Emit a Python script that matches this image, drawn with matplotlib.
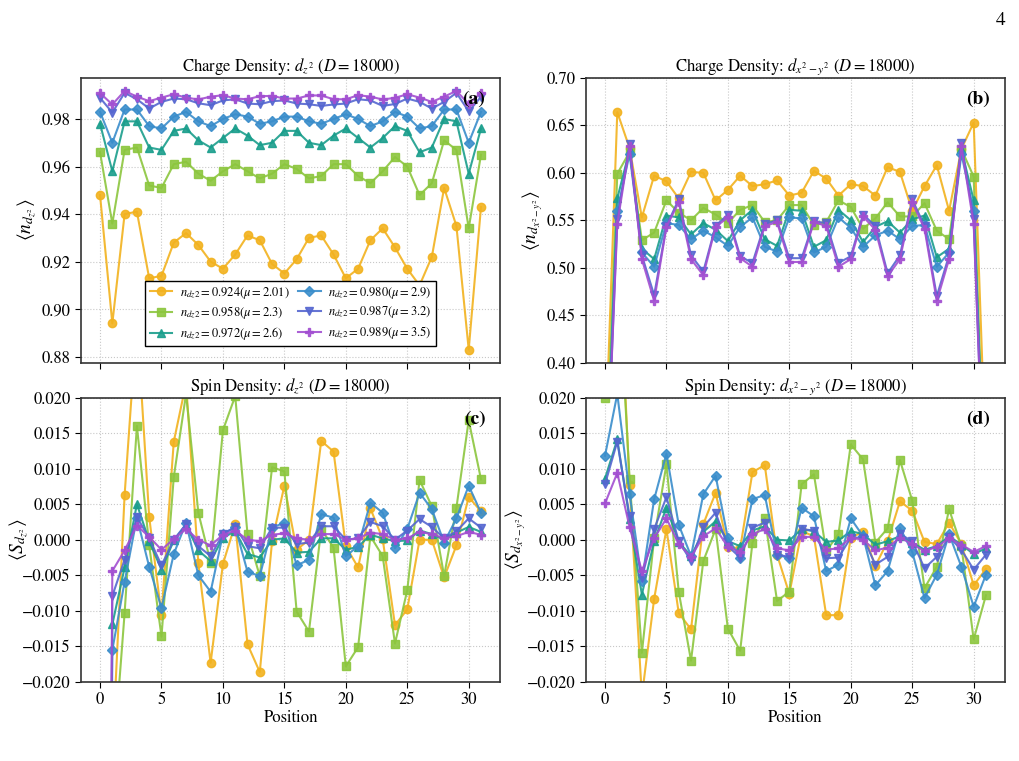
import numpy as np
import matplotlib
matplotlib.use("Agg")
import matplotlib.pyplot as plt

plt.rcParams['font.family'] = ['STIXGeneral', 'Liberation Serif', 'DejaVu Serif']
plt.rcParams['mathtext.fontset'] = 'stix'
plt.rcParams['axes.unicode_minus'] = True

positions = np.arange(32)

labels = [r'$n_{dz2}=0.924(\mu=2.01)$', r'$n_{dz2}=0.958(\mu=2.3)$',
          r'$n_{dz2}=0.972(\mu=2.6)$', r'$n_{dz2}=0.980(\mu=2.9)$',
          r'$n_{dz2}=0.987(\mu=3.2)$', r'$n_{dz2}=0.989(\mu=3.5)$']
colors = ['#F2B21E', '#8CC63E', '#1A9E8C', '#3A8DCB', '#5566D0', '#A24FD1']
markers = ['o', 's', '^', 'D', 'v', 'P']

# charge density dz2
a_0924 = [0.948, 0.894, 0.940, 0.941, 0.913, 0.914, 0.928, 0.932, 0.927, 0.920, 0.917, 0.923, 0.931, 0.929, 0.919, 0.915,
          0.921, 0.930, 0.931, 0.923, 0.913, 0.917, 0.929, 0.934, 0.926, 0.917, 0.910, 0.922, 0.951, 0.935, 0.883, 0.943]
a_0958 = [0.966, 0.936, 0.967, 0.968, 0.952, 0.951, 0.961, 0.962, 0.957, 0.954, 0.958, 0.961, 0.958, 0.955, 0.957, 0.961,
          0.959, 0.955, 0.956, 0.961, 0.961, 0.956, 0.953, 0.958, 0.964, 0.960, 0.948, 0.953, 0.971, 0.967, 0.934, 0.965]
a_0972 = [0.978, 0.958, 0.979, 0.979, 0.968, 0.967, 0.975, 0.976, 0.971, 0.968, 0.972, 0.976, 0.973, 0.969, 0.970, 0.975,
          0.975, 0.970, 0.969, 0.973, 0.976, 0.972, 0.968, 0.972, 0.977, 0.975, 0.966, 0.968, 0.980, 0.979, 0.957, 0.976]
a_0980 = [0.983, 0.970, 0.984, 0.984, 0.977, 0.976, 0.981, 0.983, 0.979, 0.977, 0.980, 0.982, 0.981, 0.978, 0.979, 0.981,
          0.981, 0.979, 0.978, 0.980, 0.982, 0.980, 0.977, 0.979, 0.983, 0.981, 0.976, 0.977, 0.984, 0.984, 0.970, 0.983]
a_0987 = [0.9889, 0.9827, 0.9910, 0.9883, 0.9844, 0.9872, 0.9886, 0.9883, 0.9866, 0.9858, 0.9878, 0.9883, 0.9865, 0.9862,
          0.9875, 0.9878, 0.9865, 0.9862, 0.9855, 0.9861, 0.9865, 0.9883, 0.9878, 0.9855, 0.9863, 0.9886, 0.9872, 0.9844,
          0.9872, 0.9910, 0.9832, 0.9893]
a_0989 = [0.9909, 0.9861, 0.9918, 0.9894, 0.9875, 0.9890, 0.9904, 0.9890, 0.9882, 0.9894, 0.9900, 0.9886, 0.9883, 0.9896,
          0.9897, 0.9886, 0.9886, 0.9899, 0.9899, 0.9883, 0.9883, 0.9900, 0.9894, 0.9882, 0.9889, 0.9904, 0.9890, 0.9872,
          0.9894, 0.9918, 0.9863, 0.9910]

# charge density dx2-y2
b_0924 = [0.30, 0.664, 0.626, 0.553, 0.597, 0.591, 0.573, 0.601, 0.600, 0.571, 0.582, 0.597, 0.586, 0.588, 0.592, 0.576,
          0.579, 0.602, 0.594, 0.576, 0.588, 0.586, 0.576, 0.606, 0.601, 0.560, 0.586, 0.608, 0.560, 0.625, 0.653, 0.29]
b_0958 = [0.26, 0.599, 0.622, 0.529, 0.537, 0.571, 0.558, 0.550, 0.563, 0.556, 0.547, 0.561, 0.566, 0.548, 0.550, 0.566,
          0.566, 0.545, 0.548, 0.571, 0.564, 0.541, 0.552, 0.569, 0.554, 0.554, 0.568, 0.539, 0.530, 0.625, 0.596, 0.22]
b_0972 = [0.24, 0.573, 0.624, 0.520, 0.509, 0.555, 0.553, 0.535, 0.547, 0.540, 0.528, 0.550, 0.561, 0.530, 0.523, 0.561,
          0.560, 0.522, 0.529, 0.561, 0.550, 0.527, 0.543, 0.549, 0.537, 0.551, 0.555, 0.511, 0.520, 0.625, 0.571, 0.22]
b_0980 = [0.24, 0.560, 0.620, 0.516, 0.501, 0.547, 0.545, 0.530, 0.539, 0.532, 0.523, 0.543, 0.553, 0.522, 0.517, 0.553,
          0.552, 0.516, 0.522, 0.553, 0.542, 0.522, 0.534, 0.539, 0.530, 0.544, 0.545, 0.501, 0.516, 0.620, 0.560, 0.22]
b_0987 = [0.23, 0.551, 0.630, 0.513, 0.471, 0.544, 0.572, 0.513, 0.496, 0.544, 0.556, 0.512, 0.505, 0.546, 0.550, 0.510,
          0.510, 0.549, 0.547, 0.505, 0.512, 0.556, 0.544, 0.494, 0.513, 0.572, 0.544, 0.470, 0.513, 0.631, 0.551, 0.21]
b_0989 = [0.23, 0.546, 0.628, 0.509, 0.465, 0.543, 0.569, 0.509, 0.492, 0.543, 0.553, 0.510, 0.501, 0.544, 0.548, 0.506,
          0.506, 0.548, 0.544, 0.501, 0.509, 0.554, 0.540, 0.491, 0.509, 0.569, 0.541, 0.465, 0.509, 0.628, 0.546, 0.21]

# spin density dz2
c_0924 = [-0.25, -0.030, 0.0063, 0.031, 0.0032, -0.0106, 0.0138, 0.022, -0.0033, -0.0173, -0.0034, 0.0022, -0.0147,
          -0.0186, -0.0002, 0.0076, -0.0014, 0.0000, 0.0139, 0.0124, -0.0009, -0.0039, 0.0044, 0.0001, -0.0120, -0.0098,
          0.0000, 0.0000, -0.0053, -0.0008, 0.0060, 0.0040]
c_0958 = [-0.25, -0.033, -0.0103, 0.0160, -0.0008, -0.0136, 0.0088, 0.0205, 0.0038, -0.0032, 0.0154, 0.0202, 0.0008,
          -0.0051, 0.0102, 0.0096, -0.0101, -0.0129, 0.0015, -0.0011, -0.0178, -0.0151, 0.0005, -0.0023, -0.0146, -0.0071,
          0.0084, 0.0047, -0.0051, 0.0045, 0.0168, 0.0085]
c_0972 = [-0.25, -0.0119, -0.0039, 0.0050, -0.0002, -0.0042, -0.0001, 0.0021, -0.0015, -0.0030, 0.0003, 0.0012, -0.0020,
          -0.0025, 0.0000, 0.0002, -0.0018, -0.0017, 0.0002, 0.0002, -0.0014, -0.0010, 0.0007, 0.0002, -0.0002, -0.0001,
          0.0013, 0.0008, 0.0000, 0.0010, 0.0018, 0.0011]
c_0980 = [-0.25, -0.0155, -0.0059, 0.0031, -0.0038, -0.0096, -0.0020, 0.0024, -0.0050, -0.0073, 0.0008, 0.0018, -0.0045,
          -0.0051, 0.0017, 0.0024, -0.0036, -0.0028, 0.0036, 0.0031, -0.0023, -0.0009, 0.0052, 0.0038, -0.0012, 0.0015,
          0.0066, 0.0043, -0.0004, 0.0030, 0.0076, 0.0038]
c_0987 = [-0.25, -0.0079, -0.0028, 0.0032, 0.0002, -0.0036, 0.0000, 0.0022, -0.0009, -0.0023, 0.0008, 0.0018, -0.0009,
          -0.0012, 0.0017, 0.0017, -0.0006, -0.0004, 0.0019, 0.0019, 0.0000, 0.0002, 0.0025, 0.0019, 0.0000, 0.0013,
          0.0029, 0.0018, 0.0002, 0.0012, 0.0030, 0.0017]
c_0989 = [-0.25, -0.0044, -0.0015, 0.0020, 0.0004, -0.0014, 0.0001, 0.0015, 0.0000, -0.0008, 0.0007, 0.0013, 0.0000,
          -0.0002, 0.0007, 0.0009, 0.0002, 0.0000, 0.0008, 0.0008, 0.0000, 0.0002, 0.0010, 0.0008, 0.0000, 0.0002,
          0.0011, 0.0008, 0.0002, 0.0005, 0.0011, 0.0007]

# spin density dx2-y2
d_0924 = [0.030, 0.045, 0.0077, -0.022, -0.0083, 0.0015, -0.0103, -0.0126, 0.0022, 0.0066, -0.0010, -0.0012, 0.0095,
          0.0105, -0.0021, -0.0076, 0.0012, 0.0005, -0.0106, -0.0106, 0.0003, 0.0011, -0.0037, -0.0002, 0.0054, 0.0041,
          -0.0003, -0.0006, 0.0024, -0.0006, -0.0064, -0.0041]
d_0958 = [0.0200, 0.040, 0.0086, -0.0159, 0.0002, 0.0106, -0.0073, -0.0170, -0.0030, 0.0015, -0.0125, -0.0156, -0.0004,
          0.0031, -0.0086, -0.0073, 0.0078, 0.0092, -0.0016, 0.0008, 0.0134, 0.0113, -0.0004, 0.0016, 0.0112, 0.0055,
          -0.0068, -0.0038, 0.0043, -0.0009, -0.0140, -0.0078]
d_0972 = [0.0086, 0.0141, 0.0029, -0.0077, -0.0002, 0.0045, -0.0003, -0.0023, 0.0011, 0.0026, -0.0002, -0.0009, 0.0013,
          0.0019, 0.0000, -0.0001, 0.0015, 0.0012, -0.0003, -0.0001, 0.0012, 0.0008, -0.0007, -0.0002, 0.0005, -0.0004,
          -0.0014, -0.0009, 0.0005, -0.0007, -0.0020, -0.0012]
d_0980 = [0.0118, 0.0205, 0.0065, -0.0058, 0.0057, 0.0121, 0.0021, -0.0023, 0.0064, 0.0090, 0.0002, -0.0025, 0.0057,
          0.0063, -0.0021, -0.0026, 0.0045, 0.0033, -0.0044, -0.0035, 0.0030, 0.0005, -0.0064, -0.0044, 0.0017, -0.0017,
          -0.0082, -0.0049, 0.0008, -0.0038, -0.0094, -0.0049]
d_0987 = [0.0078, 0.0138, 0.0033, -0.0054, 0.0015, 0.0060, -0.0002, -0.0030, 0.0018, 0.0038, -0.0009, -0.0025, 0.0017,
          0.0024, -0.0021, -0.0024, 0.0015, 0.0013, -0.0026, -0.0025, 0.0003, 0.0003, -0.0035, -0.0024, 0.0008, -0.0002,
          -0.0040, -0.0024, 0.0004, -0.0014, -0.0042, -0.0021]
d_0989 = [0.0051, 0.0094, 0.0018, -0.0044, 0.0002, 0.0030, -0.0006, -0.0024, 0.0005, 0.0016, -0.0010, -0.0017, 0.0008,
          0.0015, -0.0012, -0.0015, 0.0004, 0.0004, -0.0014, -0.0012, 0.0003, 0.0000, -0.0015, -0.0011, 0.0003, -0.0006,
          -0.0016, -0.0010, 0.0002, -0.0007, -0.0017, -0.0009]

panels = [
    ([a_0924, a_0958, a_0972, a_0980, a_0987, a_0989], r'Charge Density: $d_{z^2}$ ($D=18000$)',
     r'$\langle n_{d_{z^2}}\rangle$', None, '(a)', -0.103),
    ([b_0924, b_0958, b_0972, b_0980, b_0987, b_0989], r'Charge Density: $d_{x^2-y^2}$ ($D=18000$)',
     r'$\langle n_{d_{x^2-y^2}}\rangle$', (0.40, 0.70), '(b)', -0.098),
    ([c_0924, c_0958, c_0972, c_0980, c_0987, c_0989], r'Spin Density: $d_{z^2}$ ($D=18000$)',
     r'$\langle S_{d_{z^2}}\rangle$', (-0.02, 0.02), '(c)', -0.122),
    ([d_0924, d_0958, d_0972, d_0980, d_0987, d_0989], r'Spin Density: $d_{x^2-y^2}$ ($D=18000$)',
     r'$\langle S_{d_{x^2-y^2}}\rangle$', (-0.02, 0.02), '(d)', -0.138),
]

fig, axes = plt.subplots(2, 2, figsize=(10.2, 7.61), dpi=100, sharex=True)
plt.subplots_adjust(left=0.0794, right=0.9853, bottom=0.1038, top=0.8975, wspace=0.205, hspace=0.123)

for ax, (series, title, ylab, ylim, tag, labx) in zip(axes.flat, panels):
    for vals, lab, c, m in zip(series, labels, colors, markers):
        ms = 5.5 if m in ('D', 'P') else 6
        ax.plot(positions, vals, marker=m, color=c, label=lab, lw=1.5, ms=ms, alpha=0.9)
    if ylim is not None:
        ax.set_ylim(*ylim)
    else:
        # dz2 charge panel: default-style margins
        ys = np.concatenate([np.asarray(v) for v in series])
        pad = 0.05 * (ys.max() - ys.min())
        ax.set_ylim(ys.min() - pad, ys.max() + pad)
    ax.set_xlim(-1.55, 32.55)
    ax.set_title(title, fontsize=12, pad=5)
    ax.set_ylabel(ylab, fontsize=14)
    ax.yaxis.set_label_coords(labx, 0.5)
    ax.grid(True, ls=':', color='#c8c8c8', lw=0.8)
    ax.tick_params(labelsize=12, direction='out', length=4)
    for s in ax.spines.values():
        s.set_color('#333333')
        s.set_linewidth(1.2)
    ax.text(0.965, 0.955, tag, transform=ax.transAxes, ha='right', va='top',
            fontsize=14, fontweight='bold')

for ax in axes[1]:
    ax.set_xlabel('Position', fontsize=12, labelpad=1)
    ax.set_xticks([0, 5, 10, 15, 20, 25, 30])
    ax.set_yticks(np.arange(-0.02, 0.0201, 0.005))

leg = axes[0, 0].legend(ncol=2, loc='lower center', bbox_to_anchor=(0.5, 0.035), fontsize=9,
                        frameon=True, fancybox=False, framealpha=1, edgecolor='black',
                        handlelength=1.8, handletextpad=0.6, columnspacing=0.7,
                        labelspacing=0.3, borderpad=0.35)
leg.get_frame().set_linewidth(1.0)

fig.text(0.9853, 0.985, '4', ha='right', va='top', fontsize=14)

fig.savefig('out.png', dpi=100)
